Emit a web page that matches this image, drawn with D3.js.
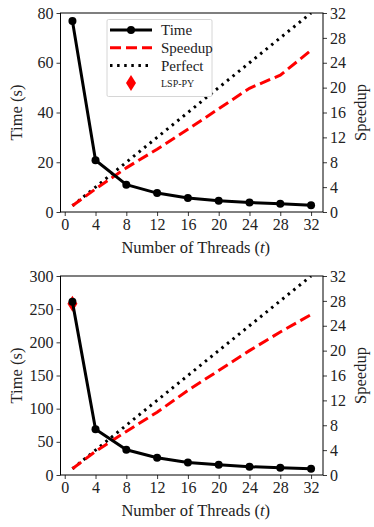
<!DOCTYPE html>
<html><head><meta charset="utf-8">
<script src="https://cdn.jsdelivr.net/npm/d3@7"></script>
<style>body{margin:0;background:#fff}svg text{font-family:'Liberation Serif';fill:#222}</style>
</head><body><svg id="c" width="374" height="527"></svg>
<script>
const threads = [1,4,8,12,16,20,24,28,32];
const timeTop = [76.8,20.8,11.0,7.6,5.6,4.5,3.8,3.3,2.7];
const speedupTop = [1,3.7,7.1,10.1,13.3,16.6,19.9,22.0,26.0];
const timeBottom = [261,69,38,26,19,15.5,12.5,11,9.5];
const speedupBottom = [1,3.8,7.0,10.1,13.6,16.8,20.0,23.0,25.8];
const perfect = [1,4,8,12,16,20,24,28,32];
const lspTime = [258]; const lspThreads=[1];
const xTicks = [0,4,8,12,16,20,24,28,32];
const yTicksTop = [0,20,40,60,80];
const yTicksBottom = [0,50,100,150,200,250,300];
const speedTicks = [0,4,8,12,16,20,24,28,32];

const svg = d3.select("#c");
const FF="'Liberation Serif'";
function panel(top, timeData, spData, tMax, tTicks, showLegend, lsp){
  const L=60.5,R=323,T=top,B=top+199;
  const g=svg.append("g");
  const x=d3.scaleLinear().domain([-0.55,33.55]).range([L,R]);
  const y=d3.scaleLinear().domain([0,tMax]).range([B,T]);
  const y2=d3.scaleLinear().domain([0,32]).range([B,T]);
  const fs=16;
  const ax=g.append("g").attr("transform",`translate(0,${B})`).call(d3.axisBottom(x).tickValues(xTicks).tickSize(4).tickPadding(3).tickFormat(d3.format("d")));
  const ay=g.append("g").attr("transform",`translate(${L},0)`).call(d3.axisLeft(y).tickValues(tTicks).tickSize(4).tickPadding(3).tickFormat(d3.format("d")));
  const ay2=g.append("g").attr("transform",`translate(${R},0)`).call(d3.axisRight(y2).tickValues(speedTicks).tickSize(4).tickPadding(3).tickFormat(d3.format("d")));
  [ax,ay,ay2].forEach(a=>{a.attr("font-family",null).attr("font-size",null);a.select(".domain").remove();a.selectAll("text").style("font-size",fs+"px").style("font-family",FF).attr("fill","#222");a.selectAll("line").attr("stroke","#222").attr("stroke-width",0.9);});
  const cid="clip"+top;
  g.append("clipPath").attr("id",cid).append("rect").attr("x",L).attr("y",T).attr("width",R-L).attr("height",B-T);
  const pg=g.append("g").attr("clip-path",`url(#${cid})`);
  const idx=d3.range(threads.length);
  pg.append("path").datum(idx).attr("fill","none").attr("stroke","#000").attr("stroke-width",3).attr("stroke-dasharray","2.5,4.6")
    .attr("d",d3.line().x(i=>x(threads[i])).y(i=>y2(perfect[i])));
  pg.append("path").datum(idx).attr("fill","none").attr("stroke","#f00").attr("stroke-width",3).attr("stroke-dasharray","11,5")
    .attr("d",d3.line().x(i=>x(threads[i])).y(i=>y2(spData[i])));
  if(lsp){
    lspTime.forEach((v,i)=>{
      const cx=x(lspThreads[i]),cy=y(v);
      g.append("path").attr("d",`M${cx},${cy-8}L${cx+5},${cy}L${cx},${cy+8}L${cx-5},${cy}Z`).attr("fill","#f00");
    });
  }
  g.append("path").datum(idx).attr("fill","none").attr("stroke","#000").attr("stroke-width",3).attr("stroke-linejoin","round")
    .attr("d",d3.line().x(i=>x(threads[i])).y(i=>y(timeData[i])));
  g.selectAll("circle.m").data(idx).enter().append("circle").attr("cx",i=>x(threads[i])).attr("cy",i=>y(timeData[i])).attr("r",4).attr("fill","#000");
  g.append("rect").attr("x",L).attr("y",T).attr("width",R-L).attr("height",B-T).attr("fill","none").attr("stroke","#000").attr("stroke-width",1);
  g.append("text").attr("x",(L+R)/2+4).attr("y",B+41).attr("text-anchor","middle").style("font-size","16.5px").style("font-family",FF).html('Number of Threads (<tspan font-style="italic">t</tspan>)');
  g.append("text").attr("transform",`translate(22,${(T+B)/2}) rotate(-90)`).attr("text-anchor","middle").style("font-size","16.5px").style("font-family",FF).text("Time (s)");
  g.append("text").attr("transform",`translate(366,${(T+B)/2}) rotate(-90)`).attr("text-anchor","middle").style("font-size","16.5px").style("font-family",FF).text("Speedup");
  if(showLegend){
    const lg=g.append("g");
    lg.append("rect").attr("x",107).attr("y",19.5).attr("width",105).attr("height",77).attr("fill","#fff").attr("stroke","#ccc").attr("stroke-width",0.8).attr("rx",1.5);
    const items=[{n:"Time",t:"time"},{n:"Speedup",t:"sp"},{n:"Perfect",t:"pf"},{n:"LSP-PY",t:"lsp"}];
    items.forEach((it,k)=>{
      const yy=30+k*17.7;
      if(it.t==="time"){lg.append("line").attr("x1",110).attr("x2",152).attr("y1",yy).attr("y2",yy).attr("stroke","#000").attr("stroke-width",3);
        lg.append("circle").attr("cx",131).attr("cy",yy).attr("r",4).attr("fill","#000");}
      if(it.t==="sp")lg.append("line").attr("x1",110).attr("x2",152).attr("y1",yy).attr("y2",yy).attr("stroke","#f00").attr("stroke-width",3).attr("stroke-dasharray","11,5");
      if(it.t==="pf")lg.append("line").attr("x1",110).attr("x2",152).attr("y1",yy).attr("y2",yy).attr("stroke","#000").attr("stroke-width",3).attr("stroke-dasharray","2.5,4.6");
      if(it.t==="lsp")lg.append("path").attr("d",`M131,${yy-8}L136,${yy}L131,${yy+8}L126,${yy}Z`).attr("fill","#f00");
      lg.append("text").attr("x",161).attr("y",yy).attr("dy","0.35em").style("font-family",FF).style("font-size",it.t==="lsp"?"10px":"15px").text(it.t==="lsp"?"LSP-PY":it.n);
    });
  }
}
panel(13,timeTop,speedupTop,80,yTicksTop,true,false);
panel(276,timeBottom,speedupBottom,300,yTicksBottom,false,true);
</script></body></html>
